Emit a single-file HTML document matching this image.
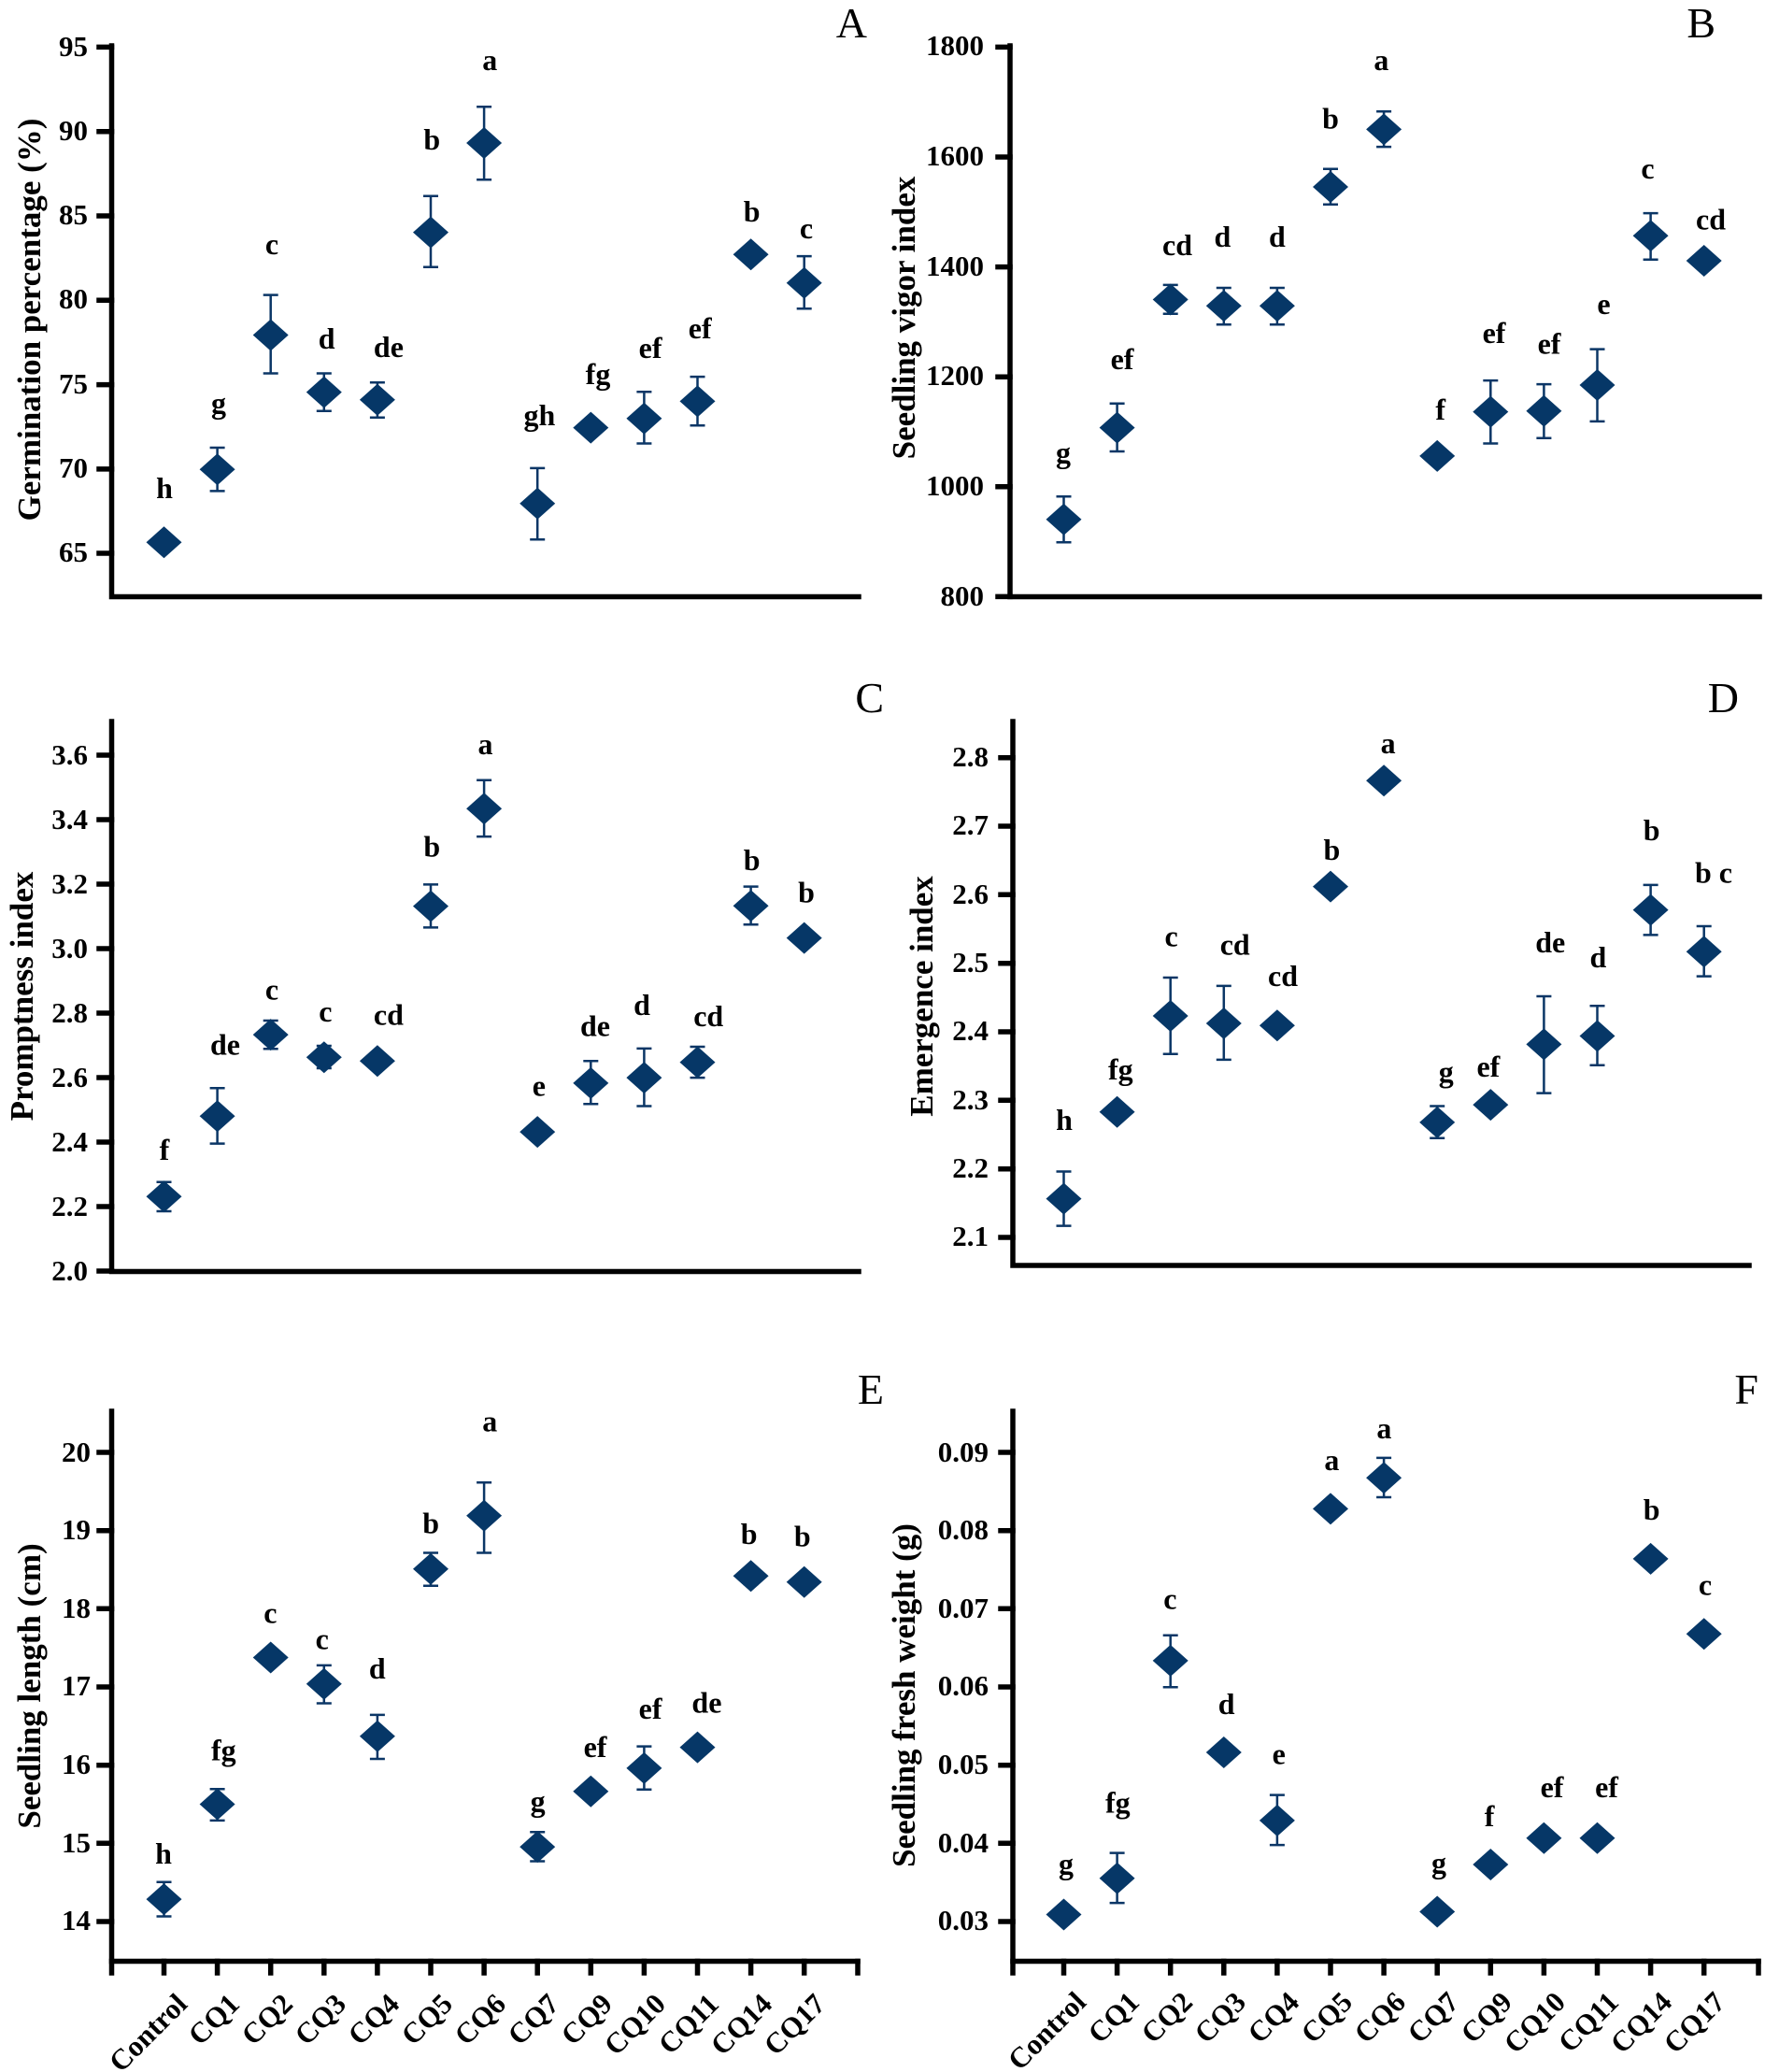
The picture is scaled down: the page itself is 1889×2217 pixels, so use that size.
<!DOCTYPE html>
<html><head><meta charset="utf-8"><style>
html,body{margin:0;padding:0;background:#fff;}
svg{display:block;}
text{font-family:"Liberation Serif","Times New Roman",serif;}
.t{font-size:31px;font-weight:bold;text-anchor:end;fill:#000;}
.l{font-size:32px;font-weight:bold;text-anchor:middle;fill:#000;}
.ti{font-size:35px;font-weight:bold;text-anchor:middle;fill:#000;}
.pl{font-size:46px;text-anchor:end;fill:#000;}
.xl{font-size:31px;font-weight:bold;text-anchor:end;fill:#000;}
.ax{stroke:#000;stroke-width:5.5;fill:none;stroke-linecap:square;}
.eb{stroke:#0b3666;stroke-width:2.5;fill:none;}
.dm{fill:#063767;}
</style></head><body>
<svg width="1889" height="2217" viewBox="0 0 1889 2217" xmlns="http://www.w3.org/2000/svg">
<defs><path id="d" d="M0,-17 L19,0 L0,17 L-19,0Z"/></defs>
<rect width="1889" height="2217" fill="#fff"/>

<!-- ================= PANEL A ================= -->
<text class="pl" x="928" y="40">A</text>
<text class="ti" transform="translate(43,342) rotate(-90)">Germination percentage (%)</text>
<path class="ax" d="M119.5,49 V638.5 H919"/>
<path class="ax" d="M106,50.4 H119.5 M106,140.7 H119.5 M106,231 H119.5 M106,321.3 H119.5 M106,411.6 H119.5 M106,501.9 H119.5 M106,592 H119.5"/>
<text class="t" x="94" y="60">95</text>
<text class="t" x="94" y="150">90</text>
<text class="t" x="94" y="240">85</text>
<text class="t" x="94" y="330">80</text>
<text class="t" x="94" y="421">75</text>
<text class="t" x="94" y="511">70</text>
<text class="t" x="94" y="601">65</text>
<path class="eb" d="M232.6,479 V525.4 M224.6,479 H240.6 M224.6,525.4 H240.6
M289.7,315.6 V399.5 M281.7,315.6 H297.7 M281.7,399.5 H297.7
M346.8,399.5 V439.7 M338.8,399.5 H354.8 M338.8,439.7 H354.8
M403.9,409.3 V446.8 M395.9,409.3 H411.9 M395.9,446.8 H411.9
M461,209.8 V285.7 M453,209.8 H469 M453,285.7 H469
M518.1,114.3 V192.3 M510.1,114.3 H526.1 M510.1,192.3 H526.1
M575.2,500.9 V577.2 M567.2,500.9 H583.2 M567.2,577.2 H583.2
M689.4,419.2 V474.5 M681.4,419.2 H697.4 M681.4,474.5 H697.4
M746.5,403.1 V455.3 M738.5,403.1 H754.5 M738.5,455.3 H754.5
M860.7,274.1 V330.3 M852.7,274.1 H868.7 M852.7,330.3 H868.7"/>
<g class="dm">
<use href="#d" x="175.5" y="580.3"/><use href="#d" x="232.6" y="502.2"/><use href="#d" x="289.7" y="358.5"/>
<use href="#d" x="346.8" y="419.6"/><use href="#d" x="403.9" y="427.7"/><use href="#d" x="461" y="248.6"/>
<use href="#d" x="518.1" y="153"/><use href="#d" x="575.2" y="538.8"/><use href="#d" x="632.3" y="457.6"/>
<use href="#d" x="689.4" y="447.7"/><use href="#d" x="746.5" y="429.4"/><use href="#d" x="803.6" y="272.3"/>
<use href="#d" x="860.7" y="302.7"/>
</g>
<text class="l" x="176" y="533">h</text>
<text class="l" x="234" y="442">g</text>
<text class="l" x="291" y="272">c</text>
<text class="l" x="349.6" y="373">d</text>
<text class="l" x="415.9" y="382">de</text>
<text class="l" x="462.3" y="160">b</text>
<text class="l" x="524.3" y="75">a</text>
<text class="l" x="577.4" y="455">gh</text>
<text class="l" x="640" y="411">fg</text>
<text class="l" x="696.1" y="383">ef</text>
<text class="l" x="749.2" y="362">ef</text>
<text class="l" x="804.6" y="237">b</text>
<text class="l" x="863" y="255">c</text>

<!-- ================= PANEL B ================= -->
<text class="pl" x="1836" y="40">B</text>
<text class="ti" transform="translate(979,340) rotate(-90)">Seedling vigor index</text>
<path class="ax" d="M1081,49 V638.5 H1883"/>
<path class="ax" d="M1068,50.4 H1081 M1068,168 H1081 M1068,285.6 H1081 M1068,403.2 H1081 M1068,520.8 H1081 M1068,638.4 H1081"/>
<text class="t" x="1053" y="59">1800</text>
<text class="t" x="1053" y="177">1600</text>
<text class="t" x="1053" y="295">1400</text>
<text class="t" x="1053" y="412">1200</text>
<text class="t" x="1053" y="530">1000</text>
<text class="t" x="1053" y="648">800</text>
<path class="eb" d="M1138.5,531.2 V580.3 M1130.5,531.2 H1146.5 M1130.5,580.3 H1146.5
M1195.6,431.7 V483 M1187.6,431.7 H1203.6 M1187.6,483 H1203.6
M1252.7,304.9 V335.7 M1244.7,304.9 H1260.7 M1244.7,335.7 H1260.7
M1309.8,308 V347.3 M1301.8,308 H1317.8 M1301.8,347.3 H1317.8
M1366.9,308 V347.3 M1358.9,308 H1374.9 M1358.9,347.3 H1374.9
M1424,180.8 V218.7 M1416,180.8 H1432 M1416,218.7 H1432
M1481.1,119.2 V157.1 M1473.1,119.2 H1489.1 M1473.1,157.1 H1489.1
M1595.3,407.1 V474.5 M1587.3,407.1 H1603.3 M1587.3,474.5 H1603.3
M1652.4,411.1 V468.7 M1644.4,411.1 H1660.4 M1644.4,468.7 H1660.4
M1709.5,373.6 V450.9 M1701.5,373.6 H1717.5 M1701.5,450.9 H1717.5
M1766.6,228.1 V277.7 M1758.6,228.1 H1774.6 M1758.6,277.7 H1774.6"/>
<g class="dm">
<use href="#d" x="1138.5" y="555.8"/><use href="#d" x="1195.6" y="457.6"/><use href="#d" x="1252.7" y="320.5"/>
<use href="#d" x="1309.8" y="327.2"/><use href="#d" x="1366.9" y="327.2"/><use href="#d" x="1424" y="200"/>
<use href="#d" x="1481.1" y="138.4"/><use href="#d" x="1538.2" y="487.9"/><use href="#d" x="1595.3" y="440.6"/>
<use href="#d" x="1652.4" y="439.7"/><use href="#d" x="1709.5" y="412"/><use href="#d" x="1766.6" y="252.2"/>
<use href="#d" x="1823.7" y="279"/>
</g>
<text class="l" x="1138" y="495">g</text>
<text class="l" x="1201" y="395">ef</text>
<text class="l" x="1260" y="273">cd</text>
<text class="l" x="1308.4" y="264">d</text>
<text class="l" x="1366.9" y="264">d</text>
<text class="l" x="1424" y="137.5">b</text>
<text class="l" x="1478.4" y="75">a</text>
<text class="l" x="1541.7" y="449">f</text>
<text class="l" x="1599" y="367">ef</text>
<text class="l" x="1658" y="378.5">ef</text>
<text class="l" x="1716.5" y="336">e</text>
<text class="l" x="1763.5" y="191">c</text>
<text class="l" x="1831" y="245.5">cd</text>

<!-- ================= PANEL C ================= -->
<text class="pl" x="946" y="762">C</text>
<text class="ti" transform="translate(35,1066) rotate(-90)">Promptness index</text>
<path class="ax" d="M119.5,772 V1360.5 H919"/>
<path class="ax" d="M106,808 H119.5 M106,877 H119.5 M106,946 H119.5 M106,1015 H119.5 M106,1084 H119.5 M106,1153 H119.5 M106,1222 H119.5 M106,1291 H119.5 M106,1360 H119.5"/>
<text class="t" x="94" y="818">3.6</text>
<text class="t" x="94" y="887">3.4</text>
<text class="t" x="94" y="956">3.2</text>
<text class="t" x="94" y="1025">3.0</text>
<text class="t" x="94" y="1094">2.8</text>
<text class="t" x="94" y="1163">2.6</text>
<text class="t" x="94" y="1232">2.4</text>
<text class="t" x="94" y="1301">2.2</text>
<text class="t" x="94" y="1370">2.0</text>
<path class="eb" d="M175.5,1264.7 V1296 M167.5,1264.7 H183.5 M167.5,1296 H183.5
M232.6,1164.3 V1223.6 M224.6,1164.3 H240.6 M224.6,1223.6 H240.6
M289.7,1092 V1122.3 M281.7,1092 H297.7 M281.7,1122.3 H297.7
M346.8,1119 V1143 M338.8,1119 H354.8 M338.8,1143 H354.8
M461,946.4 V992.4 M453,946.4 H469 M453,992.4 H469
M518.1,834.8 V895.1 M510.1,834.8 H526.1 M510.1,895.1 H526.1
M632.3,1135.2 V1181.2 M624.3,1135.2 H640.3 M624.3,1181.2 H640.3
M689.4,1121.9 V1183.5 M681.4,1121.9 H697.4 M681.4,1183.5 H697.4
M746.5,1120 V1153.1 M738.5,1120 H754.5 M738.5,1153.1 H754.5
M803.6,948.6 V989.3 M795.6,948.6 H811.6 M795.6,989.3 H811.6"/>
<g class="dm">
<use href="#d" x="175.5" y="1280.3"/><use href="#d" x="232.6" y="1194.2"/><use href="#d" x="289.7" y="1107.1"/>
<use href="#d" x="346.8" y="1131.2"/><use href="#d" x="403.9" y="1135.2"/><use href="#d" x="461" y="969.6"/>
<use href="#d" x="518.1" y="865.2"/><use href="#d" x="575.2" y="1211.1"/><use href="#d" x="632.3" y="1158.9"/>
<use href="#d" x="689.4" y="1153.1"/><use href="#d" x="746.5" y="1136.6"/><use href="#d" x="803.6" y="969.2"/>
<use href="#d" x="860.7" y="1003.6"/>
</g>
<text class="l" x="176" y="1241">f</text>
<text class="l" x="241" y="1128.5">de</text>
<text class="l" x="291" y="1069.6">c</text>
<text class="l" x="348.4" y="1092.8">c</text>
<text class="l" x="415.9" y="1096.4">cd</text>
<text class="l" x="462.3" y="916.5">b</text>
<text class="l" x="519.5" y="807">a</text>
<text class="l" x="576.8" y="1172.3">e</text>
<text class="l" x="637" y="1108.5">de</text>
<text class="l" x="687" y="1086">d</text>
<text class="l" x="758.2" y="1098">cd</text>
<text class="l" x="804.6" y="931">b</text>
<text class="l" x="863" y="965.6">b</text>

<!-- ================= PANEL D ================= -->
<text class="pl" x="1861" y="762">D</text>
<text class="ti" transform="translate(998,1066) rotate(-90)">Emergence index</text>
<path class="ax" d="M1084,772 V1354 H1872"/>
<path class="ax" d="M1071,810.7 H1084 M1071,884 H1084 M1071,957.3 H1084 M1071,1030.7 H1084 M1071,1104 H1084 M1071,1177.3 H1084 M1071,1250.7 H1084 M1071,1324 H1084"/>
<text class="t" x="1058" y="820">2.8</text>
<text class="t" x="1058" y="893">2.7</text>
<text class="t" x="1058" y="967">2.6</text>
<text class="t" x="1058" y="1040">2.5</text>
<text class="t" x="1058" y="1113">2.4</text>
<text class="t" x="1058" y="1187">2.3</text>
<text class="t" x="1058" y="1260">2.2</text>
<text class="t" x="1058" y="1333">2.1</text>
<path class="eb" d="M1138.5,1253.5 V1311.6 M1130.5,1253.5 H1146.5 M1130.5,1311.6 H1146.5
M1252.7,1046 V1127.7 M1244.7,1046 H1260.7 M1244.7,1127.7 H1260.7
M1309.8,1054.9 V1133.9 M1301.8,1054.9 H1317.8 M1301.8,1133.9 H1317.8
M1538.2,1183.5 V1217.8 M1530.2,1183.5 H1546.2 M1530.2,1217.8 H1546.2
M1652.4,1066 V1169.6 M1644.4,1066 H1660.4 M1644.4,1169.6 H1660.4
M1709.5,1076.3 V1139.7 M1701.5,1076.3 H1717.5 M1701.5,1139.7 H1717.5
M1766.6,946.9 V1000.4 M1758.6,946.9 H1774.6 M1758.6,1000.4 H1774.6
M1823.7,991 V1044.6 M1815.7,991 H1831.7 M1815.7,1044.6 H1831.7"/>
<g class="dm">
<use href="#d" x="1138.5" y="1282.6"/><use href="#d" x="1195.6" y="1189.7"/><use href="#d" x="1252.7" y="1087"/>
<use href="#d" x="1309.8" y="1095"/><use href="#d" x="1366.9" y="1097.3"/><use href="#d" x="1424" y="948.6"/>
<use href="#d" x="1481.1" y="835.3"/><use href="#d" x="1538.2" y="1200.9"/><use href="#d" x="1595.3" y="1182.1"/>
<use href="#d" x="1652.4" y="1117.4"/><use href="#d" x="1709.5" y="1108.5"/><use href="#d" x="1766.6" y="973.6"/>
<use href="#d" x="1823.7" y="1018.3"/>
</g>
<text class="l" x="1139" y="1209">h</text>
<text class="l" x="1199.3" y="1155">fg</text>
<text class="l" x="1253.6" y="1012.5">c</text>
<text class="l" x="1321.7" y="1021.4">cd</text>
<text class="l" x="1373" y="1055">cd</text>
<text class="l" x="1425.4" y="920">b</text>
<text class="l" x="1485.6" y="806">a</text>
<text class="l" x="1547.7" y="1157.6">g</text>
<text class="l" x="1592.9" y="1151.8">ef</text>
<text class="l" x="1659.2" y="1019">de</text>
<text class="l" x="1710.4" y="1035">d</text>
<text class="l" x="1767.7" y="899">b</text>
<text class="l" x="1834" y="944.6">b c</text>

<!-- ================= PANEL E ================= -->
<text class="pl" x="946" y="1502">E</text>
<text class="ti" transform="translate(43,1804) rotate(-90)">Seedling length (cm)</text>
<path class="ax" d="M119.5,1510 V2098.5 H918"/>
<path class="ax" d="M106,1554 H119.5 M106,1637.7 H119.5 M106,1721.3 H119.5 M106,1805 H119.5 M106,1888.7 H119.5 M106,1972.3 H119.5 M106,2056 H119.5"/>
<path class="ax" d="M119.5,2098.5 V2111 M175.5,2098.5 V2111 M232.6,2098.5 V2111 M289.7,2098.5 V2111 M346.8,2098.5 V2111 M403.9,2098.5 V2111 M461,2098.5 V2111 M518.1,2098.5 V2111 M575.2,2098.5 V2111 M632.3,2098.5 V2111 M689.4,2098.5 V2111 M746.5,2098.5 V2111 M803.6,2098.5 V2111 M860.7,2098.5 V2111 M918,2098.5 V2111"/>
<text class="t" x="97" y="1564">20</text>
<text class="t" x="97" y="1647">19</text>
<text class="t" x="97" y="1731">18</text>
<text class="t" x="97" y="1814">17</text>
<text class="t" x="97" y="1898">16</text>
<text class="t" x="97" y="1982">15</text>
<text class="t" x="97" y="2065">14</text>
<path class="eb" d="M175.5,2013.8 V2050.5 M167.5,2013.8 H183.5 M167.5,2050.5 H183.5
M232.6,1914.2 V1947.9 M224.6,1914.2 H240.6 M224.6,1947.9 H240.6
M346.8,1781.9 V1822.5 M338.8,1781.9 H354.8 M338.8,1822.5 H354.8
M403.9,1834.9 V1882 M395.9,1834.9 H411.9 M395.9,1882 H411.9
M461,1661.5 V1696.7 M453,1661.5 H469 M453,1696.7 H469
M518.1,1586.2 V1661.5 M510.1,1586.2 H526.1 M510.1,1661.5 H526.1
M575.2,1960.3 V1991.5 M567.2,1960.3 H583.2 M567.2,1991.5 H583.2
M689.4,1868.6 V1914.7 M681.4,1868.6 H697.4 M681.4,1914.7 H697.4
M746.5,1861 V1878 M738.5,1861 H754.5 M738.5,1878 H754.5
M803.6,1678 V1695 M795.6,1678 H811.6 M795.6,1695 H811.6
M860.7,1685 V1701 M852.7,1685 H868.7 M852.7,1701 H868.7"/>
<g class="dm">
<use href="#d" x="175.5" y="2032.1"/><use href="#d" x="232.6" y="1930.5"/><use href="#d" x="289.7" y="1773.5"/>
<use href="#d" x="346.8" y="1801.7"/><use href="#d" x="403.9" y="1857.7"/><use href="#d" x="461" y="1678.8"/>
<use href="#d" x="518.1" y="1621.8"/><use href="#d" x="575.2" y="1976.1"/><use href="#d" x="632.3" y="1916.7"/>
<use href="#d" x="689.4" y="1891.9"/><use href="#d" x="746.5" y="1869.6"/><use href="#d" x="803.6" y="1686.3"/>
<use href="#d" x="860.7" y="1692.7"/>
</g>
<text class="l" x="175" y="1994">h</text>
<text class="l" x="239.3" y="1883.5">fg</text>
<text class="l" x="289.3" y="1736.3">c</text>
<text class="l" x="344.7" y="1764.6">c</text>
<text class="l" x="403.8" y="1796">d</text>
<text class="l" x="461.1" y="1640.7">b</text>
<text class="l" x="524.3" y="1531.7">a</text>
<text class="l" x="575.6" y="1938">g</text>
<text class="l" x="637" y="1880">ef</text>
<text class="l" x="696.1" y="1839">ef</text>
<text class="l" x="756.4" y="1832.4">de</text>
<text class="l" x="801.6" y="1652">b</text>
<text class="l" x="858.8" y="1654.5">b</text>
<text class="xl" transform="translate(202,2146) rotate(-45)">Control</text>
<text class="xl" transform="translate(258,2146) rotate(-45)">CQ1</text>
<text class="xl" transform="translate(315,2146) rotate(-45)">CQ2</text>
<text class="xl" transform="translate(372,2146) rotate(-45)">CQ3</text>
<text class="xl" transform="translate(429,2146) rotate(-45)">CQ4</text>
<text class="xl" transform="translate(486,2146) rotate(-45)">CQ5</text>
<text class="xl" transform="translate(543,2146) rotate(-45)">CQ6</text>
<text class="xl" transform="translate(600,2146) rotate(-45)">CQ7</text>
<text class="xl" transform="translate(657,2146) rotate(-45)">CQ9</text>
<text class="xl" transform="translate(714,2146) rotate(-45)">CQ10</text>
<text class="xl" transform="translate(771,2146) rotate(-45)">CQ11</text>
<text class="xl" transform="translate(828,2146) rotate(-45)">CQ14</text>
<text class="xl" transform="translate(885,2146) rotate(-45)">CQ17</text>

<!-- ================= PANEL F ================= -->
<text class="pl" x="1882" y="1502">F</text>
<text class="ti" transform="translate(979,1814) rotate(-90)">Seedling fresh weight (g)</text>
<path class="ax" d="M1084,1510 V2098.5 H1882"/>
<path class="ax" d="M1071,1554 H1084 M1071,1637.7 H1084 M1071,1721.3 H1084 M1071,1805 H1084 M1071,1888.7 H1084 M1071,1972.3 H1084 M1071,2056 H1084"/>
<path class="ax" d="M1084,2098.5 V2111 M1138.5,2098.5 V2111 M1195.6,2098.5 V2111 M1252.7,2098.5 V2111 M1309.8,2098.5 V2111 M1366.9,2098.5 V2111 M1424,2098.5 V2111 M1481.1,2098.5 V2111 M1538.2,2098.5 V2111 M1595.3,2098.5 V2111 M1652.4,2098.5 V2111 M1709.5,2098.5 V2111 M1766.6,2098.5 V2111 M1823.7,2098.5 V2111 M1882,2098.5 V2111"/>
<text class="t" x="1058" y="1564">0.09</text>
<text class="t" x="1058" y="1647">0.08</text>
<text class="t" x="1058" y="1731">0.07</text>
<text class="t" x="1058" y="1814">0.06</text>
<text class="t" x="1058" y="1898">0.05</text>
<text class="t" x="1058" y="1982">0.04</text>
<text class="t" x="1058" y="2065">0.03</text>
<path class="eb" d="M1195.6,1982.6 V2036.1 M1187.6,1982.6 H1203.6 M1187.6,2036.1 H1203.6
M1252.7,1749.7 V1805.2 M1244.7,1749.7 H1260.7 M1244.7,1805.2 H1260.7
M1366.9,1920.6 V1974.1 M1358.9,1920.6 H1374.9 M1358.9,1974.1 H1374.9
M1481.1,1559.9 V1602 M1473.1,1559.9 H1489.1 M1473.1,1602 H1489.1
M1652.4,1959 V1975 M1644.4,1959 H1660.4 M1644.4,1975 H1660.4"/>
<g class="dm">
<use href="#d" x="1138.5" y="2048.5"/><use href="#d" x="1195.6" y="2009.8"/><use href="#d" x="1252.7" y="1776.9"/>
<use href="#d" x="1309.8" y="1875"/><use href="#d" x="1366.9" y="1947.9"/><use href="#d" x="1424" y="1614.4"/>
<use href="#d" x="1481.1" y="1581.2"/><use href="#d" x="1538.2" y="2045.5"/><use href="#d" x="1595.3" y="1995"/>
<use href="#d" x="1652.4" y="1966.7"/><use href="#d" x="1709.5" y="1966.7"/><use href="#d" x="1766.6" y="1667.9"/>
<use href="#d" x="1823.7" y="1748.2"/>
</g>
<text class="l" x="1141" y="2005">g</text>
<text class="l" x="1196.3" y="1939.5">fg</text>
<text class="l" x="1252.4" y="1721.4">c</text>
<text class="l" x="1312.6" y="1834">d</text>
<text class="l" x="1368.7" y="1887.4">e</text>
<text class="l" x="1425.4" y="1572.8">a</text>
<text class="l" x="1481.4" y="1539">a</text>
<text class="l" x="1540" y="2004">g</text>
<text class="l" x="1594.1" y="1953.8">f</text>
<text class="l" x="1661" y="1923">ef</text>
<text class="l" x="1719.5" y="1923">ef</text>
<text class="l" x="1767.7" y="1625.8">b</text>
<text class="l" x="1825" y="1706.6">c</text>
<text class="xl" transform="translate(1164,2144) rotate(-45)">Control</text>
<text class="xl" transform="translate(1221,2144) rotate(-45)">CQ1</text>
<text class="xl" transform="translate(1278,2144) rotate(-45)">CQ2</text>
<text class="xl" transform="translate(1335,2144) rotate(-45)">CQ3</text>
<text class="xl" transform="translate(1392,2144) rotate(-45)">CQ4</text>
<text class="xl" transform="translate(1449,2144) rotate(-45)">CQ5</text>
<text class="xl" transform="translate(1506,2144) rotate(-45)">CQ6</text>
<text class="xl" transform="translate(1563,2144) rotate(-45)">CQ7</text>
<text class="xl" transform="translate(1620,2144) rotate(-45)">CQ9</text>
<text class="xl" transform="translate(1677,2144) rotate(-45)">CQ10</text>
<text class="xl" transform="translate(1734,2144) rotate(-45)">CQ11</text>
<text class="xl" transform="translate(1791,2144) rotate(-45)">CQ14</text>
<text class="xl" transform="translate(1848,2144) rotate(-45)">CQ17</text>
</svg>
</body></html>
